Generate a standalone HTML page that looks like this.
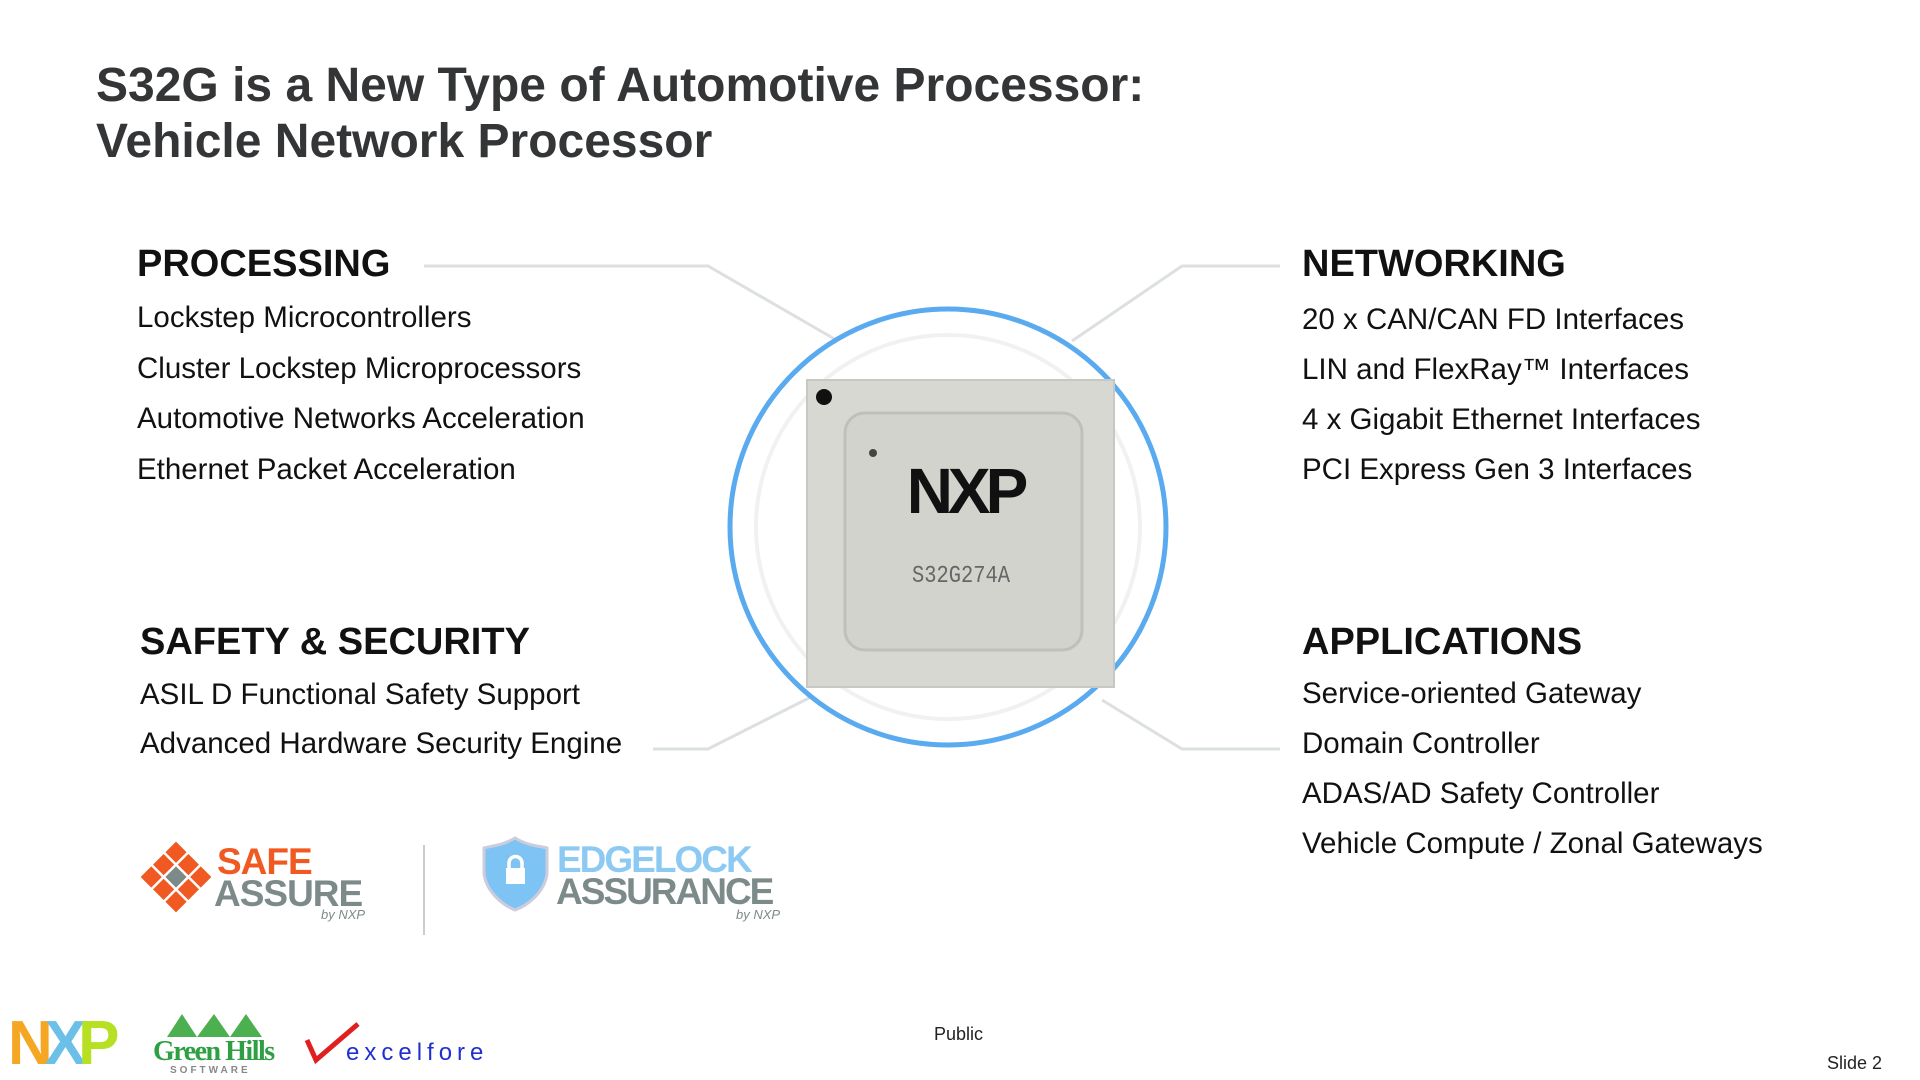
<!DOCTYPE html>
<html><head><meta charset="utf-8"><style>
body{margin:0;width:1920px;height:1080px;background:#fff;position:relative;overflow:hidden;font-family:"Liberation Sans",Arial,sans-serif}
.a{position:absolute;white-space:nowrap}
.t{font-size:48px;font-weight:bold;color:#333537;left:96px}
.h{font-size:38px;font-weight:bold;color:#111}
.i{font-size:29.5px;color:#111}
</style></head><body>
<svg class="a" style="left:0;top:0" width="1920" height="1080">
<g stroke="#dde0e0" stroke-width="3" fill="none">
<polyline points="424,266 708,266 838,341"/>
<polyline points="1280,266 1182,266 1072,341"/>
<polyline points="653,749 708,749 809,698"/>
<polyline points="1280,749 1182,749 1102,700"/>
</g>
<circle cx="948" cy="527" r="192" fill="none" stroke="#f0f2f2" stroke-width="4"/>
<circle cx="948" cy="527" r="218" fill="none" stroke="#5aaaf0" stroke-width="5"/>
<rect x="807" y="380" width="307" height="307" fill="#d8d8d2" stroke="#c8c8c2" stroke-width="2"/>
<rect x="845" y="413" width="237" height="237" rx="20" fill="#d3d3cd" stroke="#c0c0ba" stroke-width="3"/>
<circle cx="824" cy="397" r="8" fill="#111"/>
<circle cx="873" cy="453" r="4" fill="#444"/>
<text x="965" y="513" text-anchor="middle" font-size="64" font-weight="bold" font-family="Liberation Sans" fill="#111" letter-spacing="-5">NXP</text>
<text x="961" y="582" text-anchor="middle" font-size="24" font-family="Liberation Mono" fill="#666" transform="translate(961,0) scale(0.85,1) translate(-961,0)">S32G274A</text>
<g transform="translate(0,-8)">
<g transform="translate(176,885) rotate(45)">
<g fill="#f05a22">
<rect x="-25" y="-25" width="15" height="15"/><rect x="-7.5" y="-25" width="15" height="15"/><rect x="10" y="-25" width="15" height="15"/>
<rect x="-25" y="-7.5" width="15" height="15"/><rect x="10" y="-7.5" width="15" height="15"/>
<rect x="-25" y="10" width="15" height="15"/><rect x="-7.5" y="10" width="15" height="15"/><rect x="10" y="10" width="15" height="15"/>
</g><rect x="-7.5" y="-7.5" width="15" height="15" fill="#7c8a8a"/></g>
<text x="217" y="882" font-size="37" font-weight="bold" fill="#f05a22" letter-spacing="-1">SAFE</text>
<text x="214" y="914" font-size="37" font-weight="bold" fill="#7c8a8a" letter-spacing="-1">ASSURE</text>
<text x="321" y="927" font-size="13" font-style="italic" fill="#7c8a8a">by NXP</text>
<line x1="424" y1="853" x2="424" y2="943" stroke="#ccc" stroke-width="2"/>
<path d="M515,846 C502,854 490,854 484,856 L484,882 C487,902 505,914 515,918 C526,914 544,902 547,882 L547,856 C540,854 528,854 515,846Z" fill="#7dc4f5" stroke="#ccd" stroke-width="3"/>
<rect x="506" y="876" width="19" height="16" fill="#fff"/><path d="M509,877 v-6 a6.5,6.5 0 0 1 13,0 v6" stroke="#fff" stroke-width="3.5" fill="none"/>
<text x="557" y="880" font-size="37" font-weight="bold" fill="#8ccaf3" letter-spacing="-2">EDGELOCK</text>
<text x="556" y="912" font-size="37" font-weight="bold" fill="#7c8a8a" letter-spacing="-2">ASSURANCE</text>
<text x="736" y="927" font-size="13" font-style="italic" fill="#7c8a8a">by NXP</text>
</g>
<text x="8" y="1064" font-size="62" font-weight="bold" fill="#f5a623" letter-spacing="-8">N<tspan fill="#6cc0e8">X</tspan><tspan fill="#b6e021">P</tspan></text>
<polygon points="167,1037 182,1014 197,1037 214,1014 230,1037 246,1014 262,1037" fill="#4caf50"/>
<text x="153" y="1060" font-size="28" font-weight="bold" font-family="Liberation Serif" fill="#2ea043" letter-spacing="-1.5">Green Hills</text>
<text x="170" y="1073" font-size="10" font-weight="bold" fill="#888" letter-spacing="3">SOFTWARE</text>
<path d="M307,1040 L316,1060 L358,1024" stroke="#e02020" stroke-width="5" fill="none"/>
<text x="346" y="1060" font-size="24" fill="#2030d0" letter-spacing="5">excelfore</text>
</svg>
<div class="a t" style="top:58px;line-height:56px">S32G is a New Type of Automotive Processor:<br>Vehicle Network Processor</div>
<div class="a h" style="left:137px;top:243px">PROCESSING</div>
<div class="a i" style="left:137px;top:293px;line-height:50.5px">Lockstep Microcontrollers<br>Cluster Lockstep Microprocessors<br>Automotive Networks Acceleration<br>Ethernet Packet Acceleration</div>
<div class="a h" style="left:1302px;top:243px">NETWORKING</div>
<div class="a i" style="left:1302px;top:295px;line-height:50px">20 x CAN/CAN FD Interfaces<br>LIN and FlexRay™ Interfaces<br>4 x Gigabit Ethernet Interfaces<br>PCI Express Gen 3 Interfaces</div>
<div class="a h" style="left:140px;top:621px">SAFETY &amp; SECURITY</div>
<div class="a i" style="left:140px;top:670px;line-height:49px">ASIL D Functional Safety Support<br>Advanced Hardware Security Engine</div>
<div class="a h" style="left:1302px;top:621px">APPLICATIONS</div>
<div class="a i" style="left:1302px;top:669px;line-height:50px">Service-oriented Gateway<br>Domain Controller<br>ADAS/AD Safety Controller<br>Vehicle Compute / Zonal Gateways</div>
<div class="a" style="left:934px;top:1024px;font-size:18px;color:#222">Public</div>
<div class="a" style="left:1827px;top:1053px;font-size:18px;color:#222">Slide 2</div>
</body></html>
